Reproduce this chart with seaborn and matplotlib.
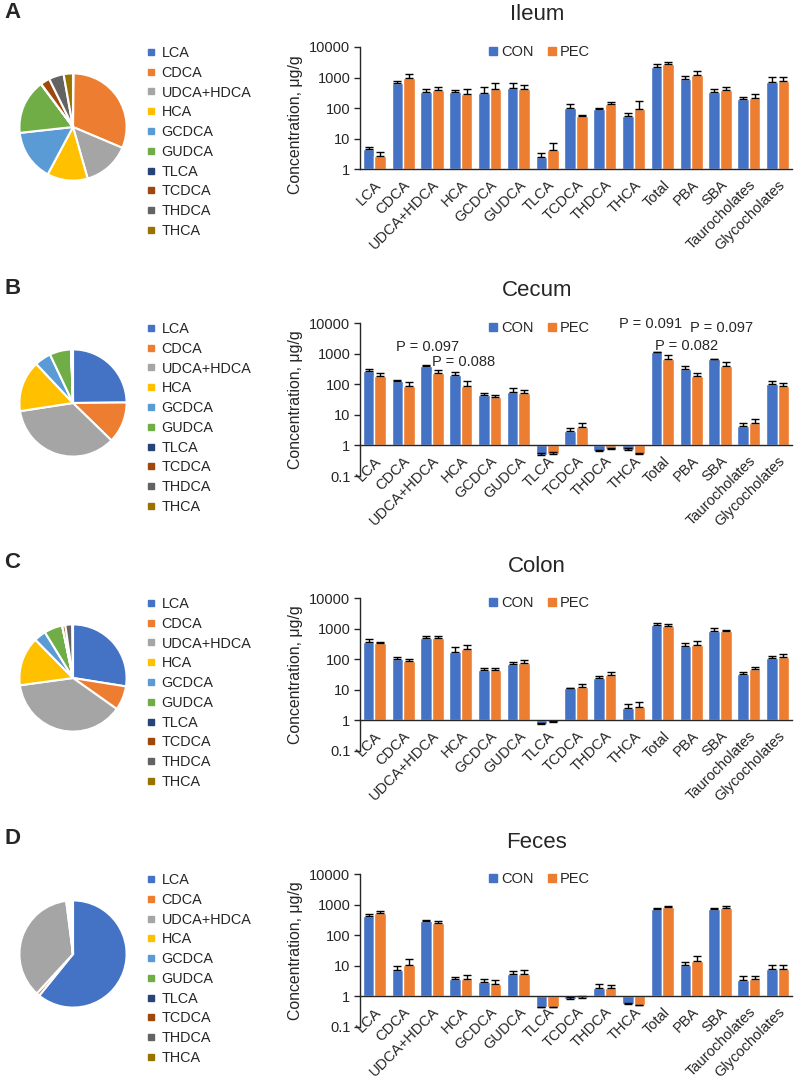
import matplotlib
matplotlib.use('Agg')
import matplotlib.pyplot as plt
from matplotlib.lines import Line2D
from matplotlib.ticker import NullLocator
import numpy as np
import pandas as pd
import seaborn as sns

# categories
acids = ['LCA', 'CDCA', 'UDCA+HDCA', 'HCA', 'GCDCA', 'GUDCA', 'TLCA', 'TCDCA',
         'THDCA', 'THCA', 'Total', 'PBA', 'SBA', 'Taurocholates', 'Glycocholates']
pie_acids = acids[:10]
pie_colors = ['#4472C4', '#ED7D31', '#A5A5A5', '#FFC000', '#5B9BD5',
              '#70AD47', '#264478', '#9E480E', '#636363', '#997300']
groups = ['CON', 'PEC']
group_colors = ['#4472C4', '#ED7D31']

# Ileum
ileum_pie = [0.2, 31.1, 14.2, 12.2, 15.4, 16.5, 0.1, 2.8, 4.5, 2.8]
ileum_con = [4.6, 646, 350, 334, 317, 452, 2.6, 100, 91, 56, 2180, 920, 350, 206, 695]
ileum_con_err = [0.7, 144, 70, 66, 183, 194, 0.95, 34, 13, 13, 620, 230, 70, 28, 325]
ileum_pec = [2.76, 980, 388, 300, 440, 420, 4.47, 55, 134, 91, 2680, 1250, 400, 223, 790]
ileum_pec_err = [1.04, 330, 87, 120, 206, 160, 2.73, 7, 30, 82, 590, 440, 80, 63, 280]

# Cecum
cecum_pie = [25.0, 12.5, 35.5, 15.5, 5.0, 6.5, 0.05, 0.4, 0.07, 0.07]
cecum_con = [265, 125, 405, 202, 43, 57.5, 0.50, 2.93, 0.65, 0.69, 1100, 325, 670, 4.27, 98]
cecum_con_err = [60, 13, 32, 50, 9, 16.5, 0.05, 0.84, 0.05, 0.15, 70, 60, 20, 1.23, 27]
cecum_pec = [187, 90, 234, 88, 37, 50, 0.535, 3.96, 0.78, 0.535, 690, 182, 405, 5.5, 86]
cecum_pec_err = [47, 26, 66, 37, 8, 14, 0.065, 1.54, 0.06, 0.015, 190, 52, 145, 1.9, 22]

# Colon
colon_pie = [27.5, 7.3, 38.0, 14.8, 3.6, 5.5, 0.06, 0.9, 2.1, 0.2]
colon_con = [363, 101, 492, 167, 44, 67.5, 0.78, 11.1, 23.6, 2.53, 1277, 268, 855, 33.6, 112]
colon_con_err = [105, 17, 98, 77, 6, 11.5, 0.04, 0.3, 4.4, 0.8, 243, 70, 165, 5.4, 18]
colon_pec = [330, 87, 480, 215, 44, 77, 0.88, 12.3, 30.3, 2.8, 1250, 298, 810, 46.5, 120]
colon_pec_err = [43, 12, 80, 75, 8, 14, 0.05, 3.1, 8.7, 1.1, 170, 82, 80, 10.5, 28]

# Feces
feces_pie = [61.3, 1.0, 36.4, 0.5, 0.35, 0.7, 0.06, 0.12, 0.25, 0.07]
feces_con = [437, 7.4, 286, 3.67, 2.86, 5.2, 0.45, 0.82, 1.87, 0.56, 720, 10.8, 705, 3.5, 7.8]
feces_con_err = [48, 2.6, 31, 0.6, 0.91, 1.7, 0.01, 0.13, 0.59, 0.03, 70, 2.7, 55, 1.1, 3.2]
feces_pec = [520, 11, 258, 3.67, 2.6, 5.5, 0.45, 0.9, 1.87, 0.51, 810, 14.5, 780, 3.6, 7.8]
feces_pec_err = [85, 5.5, 42, 1.5, 0.9, 1.9, 0.01, 0.13, 0.47, 0.025, 120, 7.2, 125, 0.9, 3.2]

# P values shown on the cecum panel
cecum_p_text = ['P = 0.097', 'P = 0.088', 'P = 0.091', 'P = 0.082', 'P = 0.097']
cecum_p_acid = ['UDCA+HDCA', 'HCA', 'Total', 'PBA', 'SBA']
cecum_p_y = [1660, 540, 9300, 1800, 6900]

sns.set_style('white')
plt.rcParams['font.family'] = ['Liberation Sans', 'DejaVu Sans']

W, H = 800, 1079
fig = plt.figure(figsize=(W / 100, H / 100), dpi=100)


def fx(px):
    return px / W


def fy(py):
    return 1 - py / H


def draw_panel(top, letter, title, pie_vals, con, con_err, pec, pec_err,
               ymin, ylab_y=0.5, p_notes=None):
    # panel letter and title
    fig.text(fx(4), fy(top + 12), letter, fontsize=16, fontweight='bold',
             ha='left', va='center')
    fig.text(fx(537), fy(top + 15), title, fontsize=16, ha='center', va='center')

    # pie
    pax = fig.add_axes([fx(73 - 67), fy(top + 127 + 67), 134 / W, 134 / H])
    pax.pie(pie_vals, colors=pie_colors, startangle=90, counterclock=False,
            wedgeprops=dict(edgecolor='white', linewidth=1.5))
    pax.set_aspect('equal')
    handles = [Line2D([], [], marker='s', ls='', color=c, markersize=4)
               for c in pie_colors]
    fig.legend(handles=handles, labels=pie_acids, loc='upper left',
               bbox_to_anchor=(fx(147), fy(top + 46)), frameon=False,
               fontsize=10.4, handlelength=0.6, handletextpad=0.4,
               labelspacing=0.40, borderaxespad=0, borderpad=0)

    # bar chart
    decades = np.log10(10000 / ymin)
    h = 30.6 * decades
    ax = fig.add_axes([fx(360), fy(top + 47 + h), 432 / W, h / H])
    df = pd.DataFrame({'acid': acids * 2,
                       'group': ['CON'] * len(acids) + ['PEC'] * len(acids),
                       'value': con + pec})
    df['height'] = df['value'] - 1
    sns.barplot(data=df, x='acid', y='height', hue='group', order=acids,
                hue_order=groups, palette=group_colors, saturation=1,
                errorbar=None, width=0.8, bottom=1, legend=False, ax=ax)
    ax.set_yscale('log')
    ax.set_ylim(ymin, 10000)
    ax.set_xlim(-0.5, len(acids) - 0.5)

    bars = list(ax.containers)[:2]
    for cont, vals, errs in zip(bars, [con, pec], [con_err, pec_err]):
        xs = [p.get_x() + p.get_width() / 2 for p in cont]
        ax.errorbar(xs, vals, yerr=[np.zeros(len(vals)), errs], fmt='none',
                    ecolor='black', elinewidth=1, capsize=3, capthick=1)

    for s in ['top', 'right']:
        ax.spines[s].set_visible(False)
    ax.spines['bottom'].set_position(('data', 1))
    for s in ['left', 'bottom']:
        ax.spines[s].set_color('#262626')
        ax.spines[s].set_linewidth(1)

    yt = [v for v in [0.1, 1, 10, 100, 1000, 10000] if v >= ymin]
    ax.set_yticks(yt)
    ax.set_yticklabels([('%g' % v) for v in yt])
    ax.yaxis.set_minor_locator(NullLocator())
    ax.tick_params(axis='y', left=True, length=4, width=1, color='#262626',
                   labelsize=10.5, pad=3)
    ax.set_xticks(range(len(acids)))
    ax.set_xticklabels(acids, rotation=45, ha='right', rotation_mode='anchor')
    ax.tick_params(axis='x', length=0, labelsize=10.5, pad=6)
    ax.set_xlabel('')
    ax.set_ylabel('Concentration, μg/g', fontsize=11.4)
    ax.yaxis.set_label_coords(-0.132, ylab_y)

    lh = [Line2D([], [], marker='s', ls='', color=c, markersize=5.5)
          for c in group_colors]
    ax.legend(handles=lh, labels=groups, loc='center', ncol=2, frameon=False,
              bbox_to_anchor=(0.414, 1 - 5 / h), fontsize=10.5,
              handlelength=0.7, handletextpad=0.2, columnspacing=0.9,
              borderaxespad=0, borderpad=0)

    if p_notes:
        offsets = [-0.14, 0.1, -0.42, -0.17, 0.07]
        for (txt, acid, yv), off in zip(p_notes, offsets):
            ax.text(acids.index(acid) + off, yv, txt, ha='center', va='center',
                    fontsize=10.5)


draw_panel(0, 'A', 'Ileum', ileum_pie, ileum_con, ileum_con_err,
           ileum_pec, ileum_pec_err, 1, ylab_y=0.367)
draw_panel(276, 'B', 'Cecum', cecum_pie, cecum_con, cecum_con_err,
           cecum_pec, cecum_pec_err, 0.1,
           p_notes=list(zip(cecum_p_text, cecum_p_acid, cecum_p_y)))
draw_panel(551, 'C', 'Colon', colon_pie, colon_con, colon_con_err,
           colon_pec, colon_pec_err, 0.1)
draw_panel(827, 'D', 'Feces', feces_pie, feces_con, feces_con_err,
           feces_pec, feces_pec_err, 0.1)

fig.savefig('out.png', dpi=100)
